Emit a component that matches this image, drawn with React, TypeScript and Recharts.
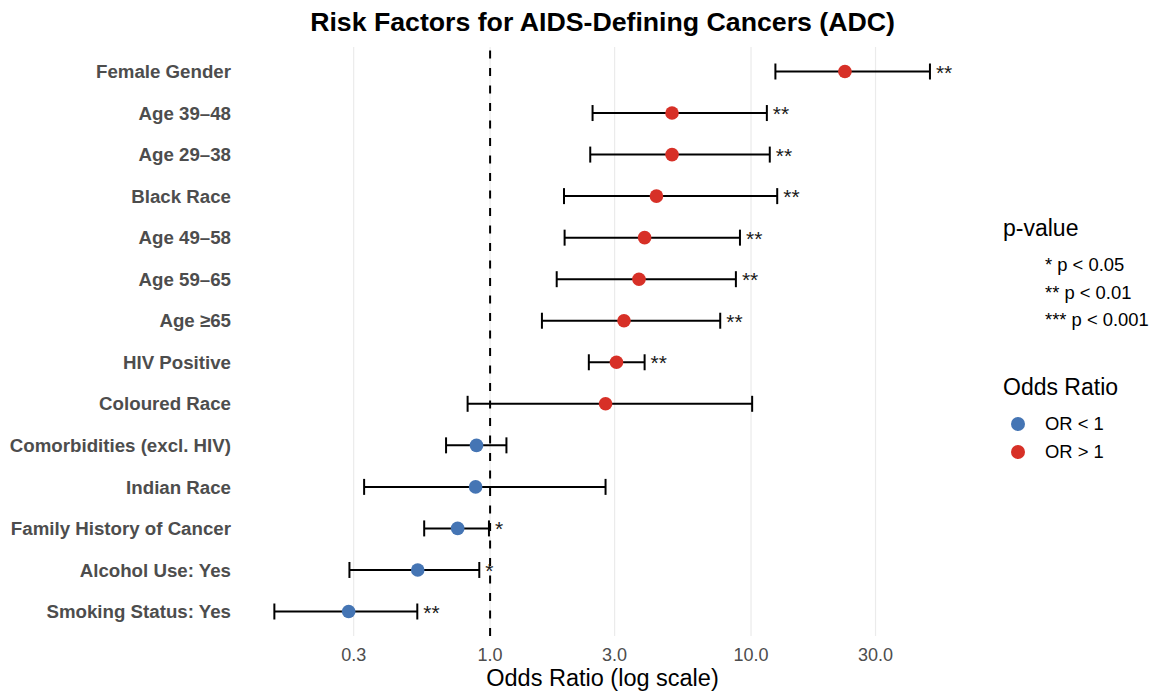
import { ScatterChart, Scatter, XAxis, YAxis, CartesianGrid, ReferenceLine, ErrorBar } from 'recharts';

const factors = [
  'Female Gender',
  'Age 39–48',
  'Age 29–38',
  'Black Race',
  'Age 49–58',
  'Age 59–65',
  'Age ≥65',
  'HIV Positive',
  'Coloured Race',
  'Comorbidities (excl. HIV)',
  'Indian Race',
  'Family History of Cancer',
  'Alcohol Use: Yes',
  'Smoking Status: Yes',
];
const oddsRatios = [22.9, 4.98, 4.98, 4.34, 3.91, 3.72, 3.26, 3.05, 2.77, 0.887, 0.88, 0.751, 0.528, 0.287];
const ciLower = [12.4, 2.47, 2.42, 1.92, 1.93, 1.8, 1.58, 2.39, 0.82, 0.678, 0.329, 0.559, 0.289, 0.149];
const ciUpper = [48.5, 11.5, 11.8, 12.6, 9.07, 8.75, 7.62, 3.91, 10.1, 1.155, 2.77, 0.99, 0.909, 0.526];
const stars = ['**', '**', '**', '**', '**', '**', '**', '**', '', '', '', '*', '*', '**'];
const xTicks = [0.3, 1, 3, 10, 30];
const pValueKey = ['* p < 0.05', '** p < 0.01', '*** p < 0.001'];

const BLUE = '#4575b4';
const RED = '#d73027';
const FONT = '"Liberation Sans", Arial, Helvetica, sans-serif';

const orGroups = [
  { name: 'OR < 1', color: BLUE },
  { name: 'OR > 1', color: RED },
];

const pointRows = factors.map((f, i) => ({
  factor: f,
  x: oddsRatios[i],
  err: [oddsRatios[i] - ciLower[i], ciUpper[i] - oddsRatios[i]],
  color: oddsRatios[i] < 1 ? BLUE : RED,
}));

// stars sit just right of the upper CI end
const starRows = factors
  .map((f, i) => ({ factor: f, x: ciUpper[i], stars: stars[i] }))
  .filter((r) => r.stars);

const renderPoint = (props: any) => {
  const color = props.payload?.color ?? props.color;
  return <circle cx={props.cx} cy={props.cy} r={6.8} fill={color} />;
};

const renderStars = (props: any) => {
  const s = props.payload?.stars ?? props.stars;
  return (
    <text x={props.cx + 6} y={props.cy + 8} fontSize={21} fontFamily={FONT} fill="#1a1a1a">
      {s}
    </text>
  );
};

// only draw grid lines at the break values, not at the panel edges
const gridAtTicks = (args: any) => {
  const scale = args?.xAxis?.scale;
  if (typeof scale === 'function') return xTicks.map((t) => scale(t));
  if (scale && typeof scale.map === 'function') return xTicks.map((t) => scale.map(t));
  return [];
};

export default function App() {
  return (
    <div style={{ position: 'absolute', left: 0, top: 0, width: 1154, height: 691, background: '#fff', fontFamily: FONT }}>
      <div
        style={{
          position: 'absolute',
          left: 241,
          width: 723,
          top: 7,
          lineHeight: '30px',
          textAlign: 'center',
          fontSize: 26.7,
          fontWeight: 'bold',
          color: '#000',
        }}
      >
        Risk Factors for AIDS-Defining Cancers (ADC)
      </div>

      <ScatterChart width={1154} height={691} margin={{ top: 47, right: 190, bottom: 0, left: 0 }}>
        <CartesianGrid horizontal={false} stroke="#ebebeb" strokeWidth={1.2} verticalCoordinatesGenerator={gridAtTicks} />
        <XAxis
          type="number"
          dataKey="x"
          scale="log"
          domain={[0.111, 65.5]}
          allowDataOverflow
          ticks={xTicks}
          tickFormatter={(v: number) => v.toFixed(1)}
          axisLine={false}
          tickLine={false}
          tickSize={0}
          tickMargin={12}
          height={55}
          tick={{ fill: '#4d4d4d', fontSize: 18, fontFamily: FONT }}
          label={{ value: 'Odds Ratio (log scale)', position: 'insideBottom', offset: 5, fontSize: 23.5, fill: '#000', fontFamily: FONT }}
        />
        <YAxis
          type="category"
          dataKey="factor"
          allowDuplicatedCategory={false}
          scale="point"
          reversed
          padding={{ top: 24.5, bottom: 24.5 }}
          width={241}
          axisLine={false}
          tickLine={false}
          tickSize={0}
          tickMargin={10}
          interval={0}
          tick={{ fill: '#4d4d4d', fontSize: 18.7, fontWeight: 'bold', fontFamily: FONT }}
        />
        <ReferenceLine x={1} stroke="#000" strokeDasharray="8 9.5" strokeWidth={2} />
        <Scatter data={pointRows} isAnimationActive={false} shape={renderPoint}>
          <ErrorBar dataKey="err" direction="x" width={8} stroke="#000" strokeWidth={2} isAnimationActive={false} />
        </Scatter>
        <Scatter data={starRows} isAnimationActive={false} shape={renderStars} />
      </ScatterChart>

      <div style={{ position: 'absolute', left: 1003, top: 213, lineHeight: '30px', fontSize: 23, color: '#000' }}>p-value</div>
      {pValueKey.map((t, i) => (
        <div
          key={t}
          style={{ position: 'absolute', left: 1045, top: 252 + i * 27.5, lineHeight: '26px', fontSize: 18.4, color: '#000', whiteSpace: 'nowrap' }}
        >
          {t}
        </div>
      ))}
      <div style={{ position: 'absolute', left: 1003, top: 372, lineHeight: '30px', fontSize: 23, color: '#000' }}>Odds Ratio</div>
      {orGroups.map((g, i) => (
        <div key={g.name} style={{ position: 'absolute', left: 1010, top: 411 + i * 28, height: 26, display: 'flex', alignItems: 'center' }}>
          <svg width={16} height={16} style={{ marginRight: 19 }}>
            <circle cx={8} cy={8} r={7} fill={g.color} />
          </svg>
          <span style={{ fontSize: 18.4, lineHeight: '26px', color: '#000', whiteSpace: 'nowrap' }}>{g.name}</span>
        </div>
      ))}
    </div>
  );
}
